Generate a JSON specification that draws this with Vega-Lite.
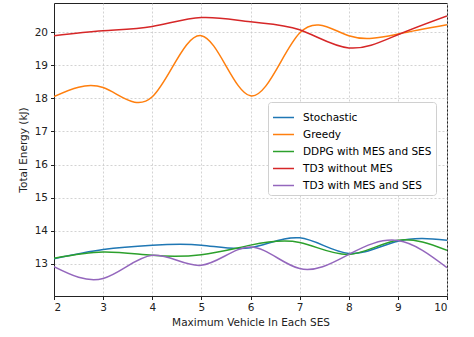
{
  "$schema": "https://vega.github.io/schema/vega-lite/v6.json",
  "width": 393,
  "height": 293,
  "autosize": {"type": "none"},
  "padding": {"left": 54, "top": 3, "right": 27, "bottom": 41},
  "background": "white",
  "config": {
    "font": "DejaVu Sans",
    "view": {"stroke": "#222", "strokeWidth": 1},
    "axis": {
      "labelFont": "DejaVu Sans", "titleFont": "DejaVu Sans",
      "labelFontSize": 10.5, "titleFontSize": 10.5, "titleFontWeight": "normal",
      "labelColor": "#222", "titleColor": "#222",
      "domainColor": "#222", "tickColor": "#222", "tickSize": 3.5,
      "gridColor": "#c8c8c8", "gridDash": [2, 2], "gridWidth": 0.8
    },
    "legend": {"labelFont": "DejaVu Sans", "labelFontSize": 10.5}
  },
  "data": {"values": [
    {"x": 2, "y": 13.15, "s": "Stochastic"},
    {"x": 3, "y": 13.43, "s": "Stochastic"},
    {"x": 4, "y": 13.56, "s": "Stochastic"},
    {"x": 5, "y": 13.56, "s": "Stochastic"},
    {"x": 6, "y": 13.48, "s": "Stochastic"},
    {"x": 7, "y": 13.78, "s": "Stochastic"},
    {"x": 8, "y": 13.31, "s": "Stochastic"},
    {"x": 9, "y": 13.68, "s": "Stochastic"},
    {"x": 10, "y": 13.71, "s": "Stochastic"},
    {"x": 2, "y": 18.06, "s": "Greedy"},
    {"x": 3, "y": 18.33, "s": "Greedy"},
    {"x": 4, "y": 18.05, "s": "Greedy"},
    {"x": 5, "y": 19.9, "s": "Greedy"},
    {"x": 6, "y": 18.08, "s": "Greedy"},
    {"x": 7, "y": 19.98, "s": "Greedy"},
    {"x": 8, "y": 19.9, "s": "Greedy"},
    {"x": 9, "y": 19.95, "s": "Greedy"},
    {"x": 10, "y": 20.23, "s": "Greedy"},
    {"x": 2, "y": 13.16, "s": "DDPG with MES and SES"},
    {"x": 3, "y": 13.35, "s": "DDPG with MES and SES"},
    {"x": 4, "y": 13.25, "s": "DDPG with MES and SES"},
    {"x": 5, "y": 13.27, "s": "DDPG with MES and SES"},
    {"x": 6, "y": 13.56, "s": "DDPG with MES and SES"},
    {"x": 7, "y": 13.64, "s": "DDPG with MES and SES"},
    {"x": 8, "y": 13.28, "s": "DDPG with MES and SES"},
    {"x": 9, "y": 13.71, "s": "DDPG with MES and SES"},
    {"x": 10, "y": 13.4, "s": "DDPG with MES and SES"},
    {"x": 2, "y": 19.9, "s": "TD3 without MES"},
    {"x": 3, "y": 20.05, "s": "TD3 without MES"},
    {"x": 4, "y": 20.18, "s": "TD3 without MES"},
    {"x": 5, "y": 20.45, "s": "TD3 without MES"},
    {"x": 6, "y": 20.32, "s": "TD3 without MES"},
    {"x": 7, "y": 20.08, "s": "TD3 without MES"},
    {"x": 8, "y": 19.53, "s": "TD3 without MES"},
    {"x": 9, "y": 19.93, "s": "TD3 without MES"},
    {"x": 10, "y": 20.5, "s": "TD3 without MES"},
    {"x": 2, "y": 12.91, "s": "TD3 with MES and SES"},
    {"x": 3, "y": 12.55, "s": "TD3 with MES and SES"},
    {"x": 4, "y": 13.25, "s": "TD3 with MES and SES"},
    {"x": 5, "y": 12.95, "s": "TD3 with MES and SES"},
    {"x": 6, "y": 13.5, "s": "TD3 with MES and SES"},
    {"x": 7, "y": 12.85, "s": "TD3 with MES and SES"},
    {"x": 8, "y": 13.28, "s": "TD3 with MES and SES"},
    {"x": 9, "y": 13.7, "s": "TD3 with MES and SES"},
    {"x": 10, "y": 12.88, "s": "TD3 with MES and SES"}
  ]},
  "mark": {"type": "line", "interpolate": "natural", "strokeWidth": 1.5, "clip": true},
  "encoding": {
    "x": {
      "field": "x", "type": "quantitative",
      "scale": {"domain": [2, 10], "nice": false, "zero": false},
      "axis": {"values": [2, 3, 4, 5, 6, 7, 8, 9, 10], "title": "Maximum Vehicle In Each SES", "titlePadding": 4, "labelPadding": 3}
    },
    "y": {
      "field": "y", "type": "quantitative",
      "scale": {"domain": [12.02, 20.89], "nice": false, "zero": false},
      "axis": {"values": [13, 14, 15, 16, 17, 18, 19, 20], "title": "Total Energy (kJ)", "titlePadding": 6, "labelPadding": 3}
    },
    "color": {
      "field": "s", "type": "nominal",
      "scale": {
        "domain": ["Stochastic", "Greedy", "DDPG with MES and SES", "TD3 without MES", "TD3 with MES and SES"],
        "range": ["#1f77b4", "#ff7f0e", "#2ca02c", "#d62728", "#9467bd"]
      },
      "legend": {
        "title": null, "orient": "none", "legendX": 214, "legendY": 99,
        "symbolType": "stroke", "symbolSize": 441, "symbolStrokeWidth": 1.5,
        "fillColor": "white", "strokeColor": "#d0d0d0", "cornerRadius": 3,
        "padding": 4, "rowPadding": -4, "labelOffset": 8, "labelLimit": 300
      }
    }
  }
}
